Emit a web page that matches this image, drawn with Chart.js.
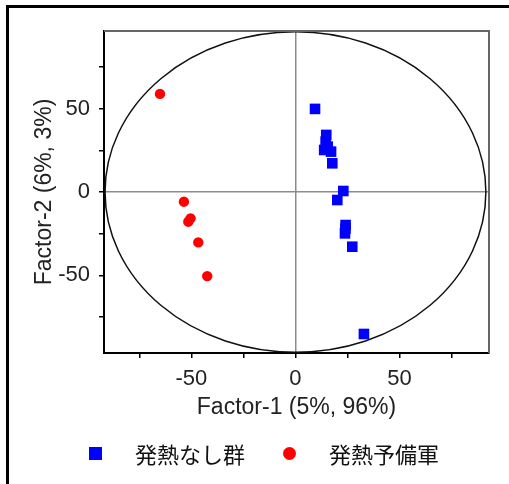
<!DOCTYPE html>
<html>
<head>
<meta charset="utf-8">
<script src="https://cdn.jsdelivr.net/npm/chart.js@4.4.1/dist/chart.umd.min.js"></script>
<style>
    body { margin: 0; background: #fff; }
    .wrap { position: relative; width: 509px; height: 484px; overflow: hidden; }
    .frame { position: absolute; left: 6px; top: 5px; width: 500px; height: 490px;
             border-top: 3px solid #000; border-left: 3px solid #000; }
    #pcaChart { position: absolute; left: 0; top: 0; }
    .legend { position: absolute; left: 89px; top: 441px; display: flex; align-items: center;
              font: 22px 'Noto Sans CJK JP', sans-serif; color: #111; line-height: 24px; }
    .legend-item { display: flex; align-items: center; margin-right: 38px; }
    .legend-mark { width: 13px; height: 13px; margin-right: 33px; }
</style>
</head>
<body>
<div class="wrap">
    <div class="frame"></div>
    <canvas id="pcaChart" width="509" height="484"></canvas>
    <div class="legend" id="legend"></div>
</div>

<script>
// ====== DATA ======
const groupNames = ['発熱なし群', '発熱予備軍'];
const groupColors = ['#0000ff', '#ff0000'];
const groupShapes = ['rect', 'circle'];

// 発熱なし群 (blue squares)
const noFeverX = [9.4, 14.8, 14.5, 15.5, 13.8, 17.1, 17.7, 23.0, 20.1, 24.1, 24.0, 23.8, 27.3, 32.9];
const noFeverY = [49.8, 34.2, 30.2, 27.2, 25.2, 24.2, 17.2, 0.6, -4.8, -19.8, -22.0, -24.8, -32.8, -85.1];

// 発熱予備軍 (red circles)
const preFeverX = [-65.1, -53.6, -50.4, -51.5, -46.7, -42.4];
const preFeverY = [58.8, -5.8, -15.8, -17.8, -30.2, -50.4];

// axes
const xTitle = 'Factor-1 (5%, 96%)';
const yTitle = 'Factor-2 (6%, 3%)';
const labelledTicks = [-50, 0, 50];
const xRange = [-92, 93];
const yRange = [-96.5, 96.5];

// confidence ellipse (data units, centred on origin)
const ellipseRadii = [91.5, 96];

function toPoints(xs, ys) {
    return xs.map((x, i) => ({ x: x, y: ys[i] }));
}

// ====== PLUGINS ======
const ellipsePlugin = {
    id: 'ellipse',
    beforeDatasetsDraw(chart) {
        const { ctx, chartArea, scales } = chart;
        const cx = scales.x.getPixelForValue(0);
        const cy = scales.y.getPixelForValue(0);
        const rx = Math.abs(scales.x.getPixelForValue(ellipseRadii[0]) - cx);
        const ry = Math.abs(scales.y.getPixelForValue(ellipseRadii[1]) - cy);
        ctx.save();
        ctx.beginPath();
        ctx.rect(chartArea.left, chartArea.top, chartArea.width, chartArea.height);
        ctx.clip();
        ctx.beginPath();
        ctx.ellipse(cx, cy, rx, ry, 0, 0, Math.PI * 2);
        ctx.strokeStyle = '#111';
        ctx.lineWidth = 1.5;
        ctx.stroke();
        ctx.restore();
    }
};

const boxPlugin = {
    id: 'box',
    afterDatasetsDraw(chart) {
        const { ctx, chartArea } = chart;
        ctx.save();
        ctx.strokeStyle = '#666';
        ctx.lineWidth = 2;
        ctx.beginPath();
        ctx.moveTo(chartArea.left, chartArea.top);
        ctx.lineTo(chartArea.right, chartArea.top);
        ctx.lineTo(chartArea.right, chartArea.bottom);
        ctx.stroke();
        ctx.restore();
    }
};

const tickFont = { family: "'Liberation Sans', Arial, sans-serif", size: 22 };
const titleFont = { family: "'Liberation Sans', Arial, sans-serif", size: 23 };

function zeroLine(ctx) {
    return ctx.tick && ctx.tick.value === 0 ? '#8c8c8c' : 'rgba(0,0,0,0)';
}

// ====== CHART ======
const datasets = [
    { data: toPoints(noFeverX, noFeverY), pointRadius: 7.5 },
    { data: toPoints(preFeverX, preFeverY), pointRadius: 5.2 }
].map((d, i) => Object.assign(d, {
    label: groupNames[i],
    pointStyle: groupShapes[i],
    backgroundColor: groupColors[i],
    borderColor: groupColors[i],
    borderWidth: 0,
    pointHoverRadius: d.pointRadius
}));

new Chart(document.getElementById('pcaChart'), {
    type: 'scatter',
    data: { datasets: datasets },
    options: {
        responsive: false,
        animation: false,
        layout: { padding: { left: 0, right: 20, top: 31, bottom: 59 } },
        plugins: { legend: { display: false }, tooltip: { enabled: false } },
        scales: {
            x: {
                type: 'linear', min: xRange[0], max: xRange[1],
                afterFit: s => { s.height = 72; },
                ticks: {
                    stepSize: 25, includeBounds: false, autoSkip: false, maxRotation: 0,
                    padding: 8, color: '#222', font: tickFont,
                    callback: v => labelledTicks.includes(v) ? v : ''
                },
                grid: { color: zeroLine, lineWidth: 1.5, tickColor: '#000', tickLength: 5, tickWidth: 1.5 },
                border: { color: '#000', width: 2 },
                title: { display: true, text: xTitle, color: '#222', font: titleFont, padding: { top: 0, bottom: 4 } }
            },
            y: {
                type: 'linear', min: yRange[0], max: yRange[1],
                afterFit: s => { s.width = 104; },
                ticks: {
                    stepSize: 25, includeBounds: false, autoSkip: false,
                    padding: 9, color: '#222', font: tickFont,
                    callback: v => labelledTicks.includes(v) ? v : ''
                },
                grid: { color: zeroLine, lineWidth: 1.5, tickColor: '#000', tickLength: 5, tickWidth: 1.5 },
                border: { color: '#000', width: 2 },
                title: { display: true, text: yTitle, color: '#222', font: titleFont, padding: { top: 31, bottom: 0 } }
            }
        }
    },
    plugins: [ellipsePlugin, boxPlugin]
});

// ====== LEGEND ======
const legend = document.getElementById('legend');
groupNames.forEach((name, i) => {
    const item = document.createElement('div');
    item.className = 'legend-item';
    const mark = document.createElement('span');
    mark.className = 'legend-mark';
    mark.style.background = groupColors[i];
    if (groupShapes[i] === 'circle') mark.style.borderRadius = '50%';
    const text = document.createElement('span');
    text.textContent = name;
    item.appendChild(mark);
    item.appendChild(text);
    legend.appendChild(item);
});
</script>
</body>
</html>
